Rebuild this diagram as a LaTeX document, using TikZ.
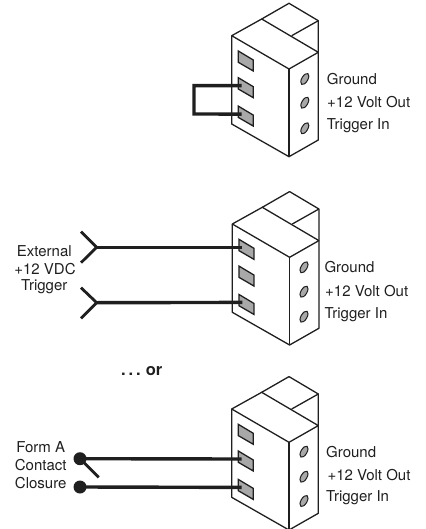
\documentclass[tikz,border=0pt]{standalone}
\usepackage{fontspec}
\setmainfont{TeX Gyre Heros}
\definecolor{ink}{gray}{0.12}
\definecolor{padgrey}{gray}{0.66}
\tikzset{
  x=1bp,y=-1bp,
  outline/.style={draw=ink,line width=1.3bp,line join=round},
  padbox/.style={draw=ink,fill=padgrey,line width=1.3bp,line join=miter},
  wire/.style={draw=ink,line width=3.4bp},
  fork/.style={draw=ink,line width=2.8bp,line join=miter},
  lbl/.style={font=\fontsize{15bp}{16bp}\selectfont,text=ink,inner sep=0pt,anchor=west},
  side/.style={font=\fontsize{15bp}{16bp}\selectfont,text=ink,inner sep=0pt,anchor=center},
  dot/.style={circle,fill=ink,minimum size=13bp,inner sep=0pt}
}
% #1 name prefix, #2 x origin, #3 y origin
\newcommand{\termblock}[3]{%
\begin{scope}[shift={(#2,#3)}]
  \draw[outline] (0,0) -- (57.3,33.3) -- (86.6,16.6) -- (30,-16.7) -- cycle;
  \draw[outline] (30,-16.7) -- (57.3,-32.4) -- (86.6,-15) -- (86.6,16.6);
  \draw[outline] (60,0) -- (86.6,-15);
  \draw[outline] (0,0) -- (0,88.3) -- (57.3,121) -- (86.6,104.3) -- (86.6,16.6);
  \draw[outline] (57.3,33.3) -- (57.3,121);
  \foreach \n/\t in {1/15.3,2/42,3/70.4}{
    \draw[padbox] (6.6,\t) -- (21.6,\t+9) -- (21.6,\t+20) -- (6.6,\t+11.3) -- cycle;
    \coordinate (#1-pad\n) at (10,\t+8);
  }
\end{scope}}
\newcommand{\holeat}[2]{\fill[padgrey,draw=ink,line width=1bp,rotate around={-30:(#1,#2)}] (#1,#2) ellipse [x radius=3,y radius=6.2];}
\begin{document}
\begin{tikzpicture}
\useasboundingbox (0,0) rectangle (425,529);
% Block 1
\termblock{a}{231.7}{35.7}
\holeat{304.8}{79}\holeat{304.8}{102.7}\holeat{304.8}{128.3}
\node[lbl] (a1) at (326.7,79) {Ground};
\node[lbl] (a2) at (327,102) {+12 Volt Out};
\node[lbl] (a3) at (326.7,125.5) {Trigger In};
\coordinate (ja) at (194,85.7);
\coordinate (jb) at (194,114);
\draw[wire,line join=miter] (a-pad2) -- (ja) -- (jb) -- (a-pad3);
% Block 2
\termblock{b}{232.3}{224}
\holeat{304}{267.3}\holeat{304}{291.7}\holeat{304}{316.7}
\node[lbl] (b1) at (324.3,267.3) {Ground};
\node[lbl] (b2) at (325,291) {+12 Volt Out};
\node[lbl] (b3) at (324.3,314.3) {Trigger In};
\node[side] (bt1) at (44.3,250.7) {External};
\node[side] (bt2) at (45,269) {+12 VDC};
\node[side] (bt3) at (44.3,287) {Trigger};
\coordinate (f1) at (96.7,247.3);
\coordinate (f1a) at (81,231.7);
\coordinate (f1b) at (81,262.7);
\coordinate (f2) at (96.7,302.7);
\coordinate (f2a) at (81,287.7);
\coordinate (f2b) at (81,318.3);
\draw[fork] (f1a) -- (f1) -- (f1b);
\draw[fork] (f2a) -- (f2) -- (f2b);
\draw[wire] (f1) -- (b-pad1);
\draw[wire] (f2) -- (b-pad3);
% or
\node[font=\bfseries\fontsize{16.5bp}{18bp}\selectfont,text=ink,inner sep=0pt] (ortext) at (141.7,370.7) {.\hspace{3bp}.\hspace{3bp}.\hspace{5bp}or};
% Block 3
\termblock{c}{231.7}{409}
\holeat{304}{451.7}\holeat{304}{476.7}\holeat{304}{501}
\node[lbl] (c1) at (326,451.7) {Ground};
\node[lbl] (c2) at (327.3,475) {+12 Volt Out};
\node[lbl] (c3) at (326,497.7) {Trigger In};
\node[side] (ct1) at (40.7,446.7) {Form A};
\node[side] (ct2) at (40.7,465) {Contact};
\node[side] (ct3) at (40.7,482.7) {Closure};
\node[dot] (d1) at (80,458.7) {};
\node[dot] (d2) at (80,487) {};
\coordinate (arm) at (98.7,477.3);
\draw[fork] (d1.center) -- (arm);
\draw[wire] (d1.center) -- (c-pad2);
\draw[wire] (d2.center) -- (c-pad3);
\end{tikzpicture}
\end{document}
